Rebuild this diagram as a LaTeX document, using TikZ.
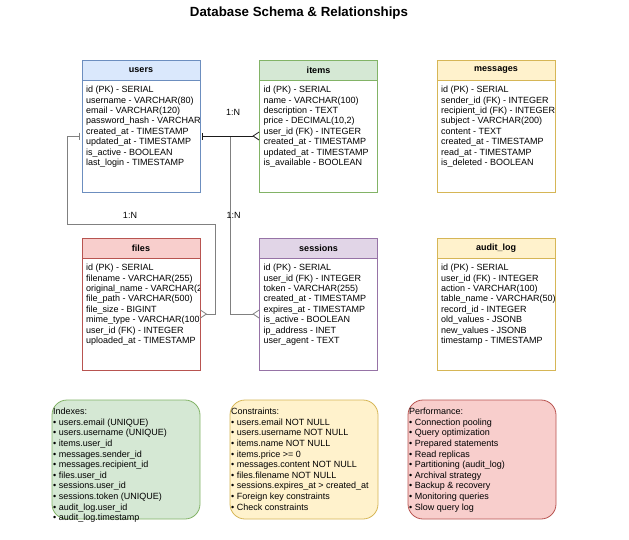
\documentclass[tikz,border=0pt]{standalone}
\usepackage{fontspec}
\setmainfont{Liberation Sans}
\usetikzlibrary{positioning,arrows.meta}

\definecolor{bluefill}{HTML}{DAE8FC}
\definecolor{blueline}{HTML}{6C8EBF}
\definecolor{greenfill}{HTML}{D5E8D4}
\definecolor{greenline}{HTML}{82B366}
\definecolor{yellowfill}{HTML}{FFF2CC}
\definecolor{yellowline}{HTML}{D6B656}
\definecolor{redfill}{HTML}{F8CECC}
\definecolor{redline}{HTML}{B85450}
\definecolor{purplefill}{HTML}{E1D5E7}
\definecolor{purpleline}{HTML}{9673A6}
\definecolor{linegray}{HTML}{808080}
\definecolor{darkline}{HTML}{1A1A1A}

\tikzset{
	tablehead/.style={draw, minimum width=118pt, minimum height=20pt, inner sep=0pt, outer sep=0pt, line width=0.8pt, font=\fontsize{9}{11}\selectfont\bfseries},
	tablebody/.style={draw, fill=white, minimum width=118pt, minimum height=112pt, inner sep=0pt, outer sep=0pt, line width=0.8pt},
	fields/.style={align=left, inner sep=0pt, font=\fontsize{9}{10.4}\selectfont},
	notebox/.style={draw, rounded corners=15pt, minimum width=148pt, minimum height=119pt, inner sep=0pt, outer sep=0pt, line width=0.8pt},
	notetext/.style={align=left, inner sep=0pt, font=\fontsize{9}{10.6}\selectfont},
	rel/.style={line width=0.8pt, shorten <=2pt, {Bar[width=7pt]}-{Straight Barb[reversed,length=6pt,width=8pt]}},
	card/.style={inner sep=0pt, font=\fontsize{9}{11}\selectfont}
}

\begin{document}
\begin{tikzpicture}[x=1pt,y=-1pt]
	\path[use as bounding box, fill=white] (0,0) rectangle (629,539);
	\node[anchor=base, font=\fontsize{13.3}{16}\selectfont\bfseries] (title) at (299,16) {Database Schema \& Relationships};

	% tables
	\node[tablehead, fill=bluefill, draw=blueline] (users) at (141,70) {users};
	\node[tablebody, draw=blueline, below=0pt of users] (usersbody) {};
	\begin{scope}
		\clip (usersbody.north west) rectangle ([xshift=-1pt]usersbody.south east);
		\node[fields, below right=6pt and 4pt of usersbody.north west] (usersfields) {id (PK) - SERIAL\\username - VARCHAR(80)\\email - VARCHAR(120)\\password\_hash - VARCHAR(255)\\created\_at - TIMESTAMP\\updated\_at - TIMESTAMP\\is\_active - BOOLEAN\\last\_login - TIMESTAMP};
	\end{scope}

	\node[tablehead, fill=greenfill, draw=greenline] (items) at (318.5,70) {items};
	\node[tablebody, draw=greenline, below=0pt of items] (itemsbody) {};
	\begin{scope}
		\clip (itemsbody.north west) rectangle ([xshift=-1pt]itemsbody.south east);
		\node[fields, below right=6pt and 4pt of itemsbody.north west] (itemsfields) {id (PK) - SERIAL\\name - VARCHAR(100)\\description - TEXT\\price - DECIMAL(10,2)\\user\_id (FK) - INTEGER\\created\_at - TIMESTAMP\\updated\_at - TIMESTAMP\\is\_available - BOOLEAN};
	\end{scope}

	\node[tablehead, fill=yellowfill, draw=yellowline] (messages) at (496,70) {messages};
	\node[tablebody, draw=yellowline, below=0pt of messages] (messagesbody) {};
	\begin{scope}
		\clip (messagesbody.north west) rectangle ([xshift=-1pt]messagesbody.south east);
		\node[fields, below right=6pt and 4pt of messagesbody.north west] (messagesfields) {id (PK) - SERIAL\\sender\_id (FK) - INTEGER\\recipient\_id (FK) - INTEGER\\subject - VARCHAR(200)\\content - TEXT\\created\_at - TIMESTAMP\\read\_at - TIMESTAMP\\is\_deleted - BOOLEAN};
	\end{scope}

	\node[tablehead, fill=redfill, draw=redline] (files) at (141,248) {files};
	\node[tablebody, draw=redline, below=0pt of files] (filesbody) {};
	\begin{scope}
		\clip (filesbody.north west) rectangle ([xshift=-1pt]filesbody.south east);
		\node[fields, below right=6pt and 4pt of filesbody.north west] (filesfields) {id (PK) - SERIAL\\filename - VARCHAR(255)\\original\_name - VARCHAR(255)\\file\_path - VARCHAR(500)\\file\_size - BIGINT\\mime\_type - VARCHAR(100)\\user\_id (FK) - INTEGER\\uploaded\_at - TIMESTAMP};
	\end{scope}

	\node[tablehead, fill=purplefill, draw=purpleline] (sessions) at (318.5,248) {sessions};
	\node[tablebody, draw=purpleline, below=0pt of sessions] (sessionsbody) {};
	\begin{scope}
		\clip (sessionsbody.north west) rectangle ([xshift=-1pt]sessionsbody.south east);
		\node[fields, below right=6pt and 4pt of sessionsbody.north west] (sessionsfields) {id (PK) - SERIAL\\user\_id (FK) - INTEGER\\token - VARCHAR(255)\\created\_at - TIMESTAMP\\expires\_at - TIMESTAMP\\is\_active - BOOLEAN\\ip\_address - INET\\user\_agent - TEXT};
	\end{scope}

	\node[tablehead, fill=yellowfill, draw=yellowline] (auditlog) at (496,248) {audit\_log};
	\node[tablebody, draw=yellowline, below=0pt of auditlog] (auditlogbody) {};
	\begin{scope}
		\clip (auditlogbody.north west) rectangle ([xshift=-1pt]auditlogbody.south east);
		\node[fields, below right=6pt and 4pt of auditlogbody.north west] (auditlogfields) {id (PK) - SERIAL\\user\_id (FK) - INTEGER\\action - VARCHAR(100)\\table\_name - VARCHAR(50)\\record\_id - INTEGER\\old\_values - JSONB\\new\_values - JSONB\\timestamp - TIMESTAMP};
	\end{scope}

	% relationships
	\draw[rel, draw=linegray] (usersbody.west) -- ++(-15,0) -- ++(0,88) -| ([xshift=15pt]filesbody.east) -- (filesbody.east);
	\draw[rel, draw=linegray] (usersbody.east) -- ++(30,0) |- (sessionsbody.west);
	\draw[rel, draw=darkline] (usersbody.east) -- (itemsbody.west);
	\node[card] (itemsrel) at (233,112) {1:N};
	\node[card] (filesrel) at (130,215) {1:N};
	\node[card] (sessionsrel) at (233.5,215) {1:N};

	% notes
	\node[notebox, fill=greenfill, draw=greenline] (indexes) at (126,459.5) {};
	\node[notetext, below right=8pt and 1pt of indexes.north west] (indexestext) {Indexes:\\• users.email (UNIQUE)\\• users.username (UNIQUE)\\• items.user\_id\\• messages.sender\_id\\• messages.recipient\_id\\• files.user\_id\\• sessions.user\_id\\• sessions.token (UNIQUE)\\• audit\_log.user\_id\\• audit\_log.timestamp};
	\node[notebox, fill=yellowfill, draw=yellowline] (constraints) at (304,459.5) {};
	\node[notetext, below right=8pt and 1pt of constraints.north west] (constraintstext) {Constraints:\\• users.email NOT NULL\\• users.username NOT NULL\\• items.name NOT NULL\\• items.price >= 0\\• messages.content NOT NULL\\• files.filename NOT NULL\\• sessions.expires\_at > created\_at\\• Foreign key constraints\\• Check constraints};
	\node[notebox, fill=redfill, draw=redline] (performance) at (482,459.5) {};
	\node[notetext, below right=8pt and 1pt of performance.north west] (performancetext) {Performance:\\• Connection pooling\\• Query optimization\\• Prepared statements\\• Read replicas\\• Partitioning (audit\_log)\\• Archival strategy\\• Backup \& recovery\\• Monitoring queries\\• Slow query log};
\end{tikzpicture}
\end{document}
